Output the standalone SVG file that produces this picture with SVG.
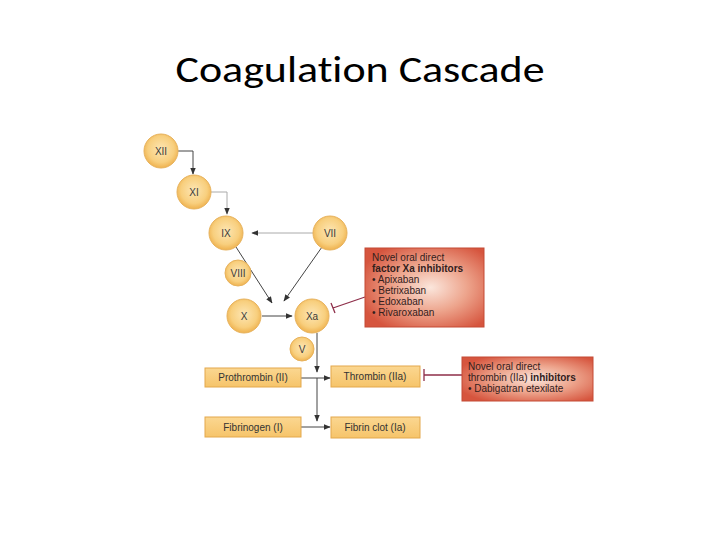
<svg xmlns="http://www.w3.org/2000/svg" width="720" height="540" viewBox="0 0 720 540">
<defs>
<radialGradient id="gc" cx="0.5" cy="0.45" r="0.55">
<stop offset="0" stop-color="#fde6b4"/>
<stop offset="0.7" stop-color="#f8cf7e"/>
<stop offset="1" stop-color="#efb24f"/>
</radialGradient>
<linearGradient id="gb" x1="0" y1="0" x2="0" y2="1">
<stop offset="0" stop-color="#fbd791"/>
<stop offset="1" stop-color="#f6c46a"/>
</linearGradient>
<radialGradient id="gr" cx="0.55" cy="0.5" r="0.62">
<stop offset="0" stop-color="#fbe6dc"/>
<stop offset="0.5" stop-color="#eda48c"/>
<stop offset="1" stop-color="#d6553e"/>
</radialGradient>
<marker id="ah" viewBox="0 0 10 10" refX="9" refY="5" markerWidth="7" markerHeight="7" markerUnits="userSpaceOnUse" orient="auto">
<path d="M0,1 L10,5 L0,9 Z" fill="#333"/>
</marker>
</defs>
<style>
.c{fill:url(#gc);stroke:#e7b25c;stroke-width:1}
.b{fill:url(#gb);stroke:#e3a84c;stroke-width:1}
.r{fill:url(#gr);stroke:#c44a35;stroke-width:1}
.t{font-family:"Liberation Sans",Arial,sans-serif;font-size:10px;fill:#3a3a3a;text-anchor:middle}
.bt{font-family:"Liberation Sans",Arial,sans-serif;font-size:10px;fill:#333;text-anchor:middle}
.rt{font-family:"Liberation Sans",Arial,sans-serif;font-size:10px;fill:#33201c}
.l{stroke:#444;stroke-width:1;fill:none;marker-end:url(#ah)}
.lg{stroke:#aaa;stroke-width:1;fill:none;marker-end:url(#ah)}
.inh{stroke:#8e2f4a;stroke-width:1.3;fill:none}
</style>
<text x="360" y="82" font-family="Carlito,'Open Sans','Liberation Sans',sans-serif" font-size="36" text-anchor="middle" fill="#000" textLength="369" lengthAdjust="spacingAndGlyphs" style="font-variant-ligatures:none">Coagulation Cascade</text>

<g id="connectors">
<path class="l" d="M178,151 H193 V174"/>
<path class="lg" d="M211,192 H227 V214"/>
<path class="lg" d="M313,233 H252"/>
<path class="l" d="M236,247 L272,303"/>
<path class="l" d="M322,247 L284,301"/>
<path class="l" d="M262,316 H292"/>
<path class="l" d="M317,333 V372"/>
<path class="l" d="M317,378 V421"/>
<path class="l" d="M301,378 H330"/>
<path class="l" d="M301,427 H330"/>
<path class="inh" d="M365,297 L333,308 M331,303 L335,313"/>
<path class="inh" d="M462,375 H424 M424,369 V381"/>
</g>

<g id="n-xii"><circle class="c" cx="161" cy="151" r="17"/><text class="t" x="161" y="155">XII</text></g>
<g id="n-xi"><circle class="c" cx="194" cy="192" r="17"/><text class="t" x="194" y="196">XI</text></g>
<g id="n-ix"><circle class="c" cx="226" cy="233" r="17"/><text class="t" x="226" y="237">IX</text></g>
<g id="n-vii"><circle class="c" cx="330" cy="233" r="17"/><text class="t" x="330" y="237">VII</text></g>
<g id="n-viii"><circle class="c" cx="238" cy="273" r="13"/><text class="t" x="238" y="277" font-size="9">VIII</text></g>
<g id="n-x"><circle class="c" cx="244" cy="316" r="17"/><text class="t" x="244" y="320">X</text></g>
<g id="n-xa"><circle class="c" cx="312" cy="316" r="17"/><text class="t" x="312" y="320">Xa</text></g>
<g id="n-v"><circle class="c" cx="302" cy="349" r="12"/><text class="t" x="302" y="353">V</text></g>

<g id="n-prothrombin"><rect class="b" x="205" y="368" width="96" height="19"/><text class="bt" x="253" y="381">Prothrombin (II)</text></g>
<g id="n-thrombin"><rect class="b" x="331" y="366" width="89" height="21"/><text class="bt" x="375" y="380">Thrombin (IIa)</text></g>
<g id="n-fibrinogen"><rect class="b" x="205" y="417" width="96" height="20"/><text class="bt" x="253" y="431">Fibrinogen (I)</text></g>
<g id="n-fibrin"><rect class="b" x="331" y="417" width="89" height="21"/><text class="bt" x="375" y="431">Fibrin clot (Ia)</text></g>

<g id="n-xa-inhibitors"><rect class="r" x="365" y="248" width="119" height="79"/>
<text class="rt" x="372" y="261">Novel oral direct</text>
<text class="rt" x="372" y="272" font-weight="bold">factor Xa inhibitors</text>
<text class="rt" x="372" y="283">• Apixaban</text>
<text class="rt" x="372" y="294">• Betrixaban</text>
<text class="rt" x="372" y="305">• Edoxaban</text>
<text class="rt" x="372" y="316">• Rivaroxaban</text>
</g>
<g id="n-iia-inhibitors"><rect class="r" x="462" y="357" width="131" height="44"/>
<text class="rt" x="468" y="370">Novel oral direct</text>
<text class="rt" x="468" y="381">thrombin (IIa) <tspan font-weight="bold">inhibitors</tspan></text>
<text class="rt" x="468" y="392">• Dabigatran etexilate</text>
</g>
</svg>
